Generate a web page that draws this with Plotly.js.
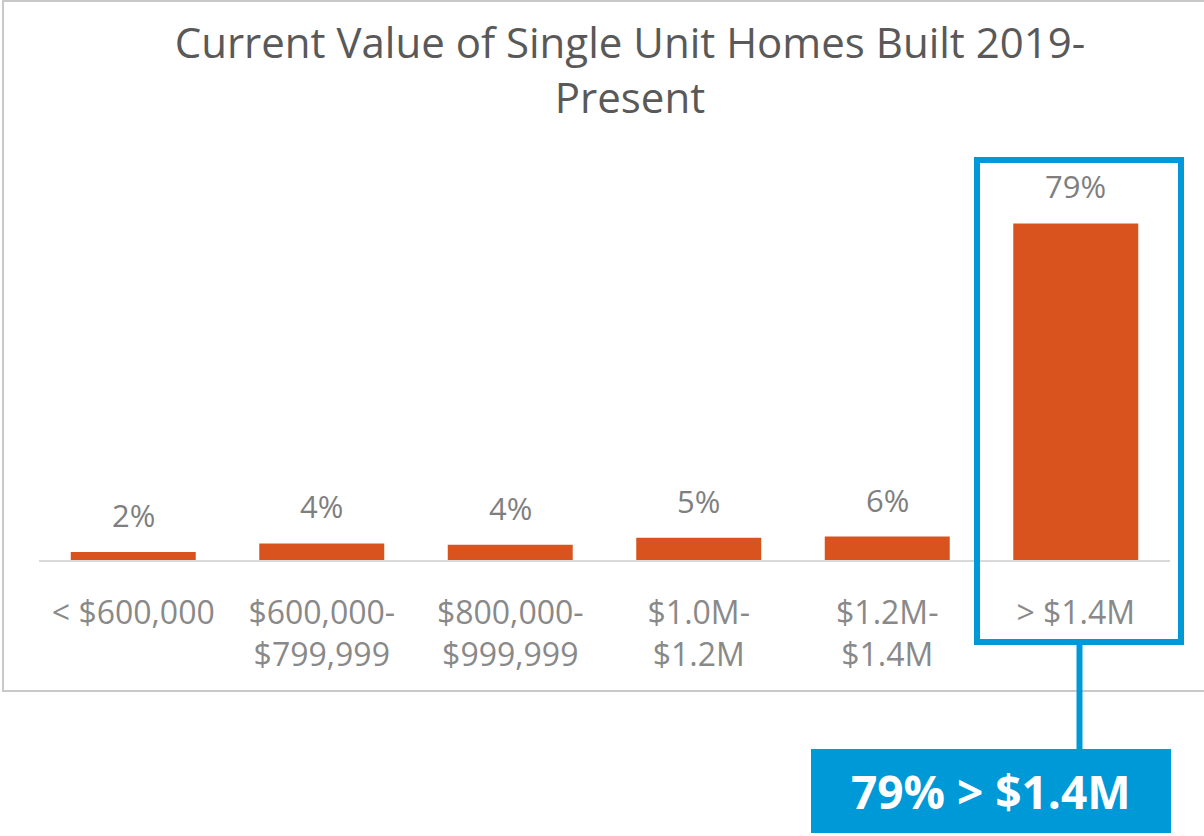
<!DOCTYPE html>
<html>
<head>
<meta charset="utf-8">
<script src="https://cdn.plot.ly/plotly-3.0.1.min.js"></script>
<style>
  html, body { margin: 0; padding: 0; background: #ffffff; }
  #chart { width: 1204px; height: 836px; }
</style>
</head>
<body>
<div id="chart"></div>
<script>
// ---- data ----
const categories = ["< $600,000", "$600,000-<br>$799,999", "$800,000-<br>$999,999", "$1.0M-<br>$1.2M", "$1.2M-<br>$1.4M", "> $1.4M"];
const shares = [1.9, 3.9, 3.6, 5.2, 5.5, 79];
const shareLabels = ["2%", "4%", "4%", "5%", "6%", "79%"];
const chartTitle = "Current Value of Single Unit Homes Built 2019-<br>Present";
const calloutText = "<b>79% > $1.4M</b>";

// ---- layout geometry (pixels) ----
const W = 1204, H = 836;
const M = {l: 39, r: 34, t: 140, b: 276};
const PW = W - M.l - M.r, PH = H - M.t - M.b;
const px = x => (x - M.l) / PW;
const py = y => (H - M.b - y) / PH;

const BAR = '#D9531E';
const BLUE = '#0099D8';
const FONT = '"Open Sans", "Noto Sans", sans-serif';

const trace = {
  type: 'bar',
  x: categories,
  y: shares,
  marker: {color: BAR},
  hoverinfo: 'skip'
};

const labelAnns = categories.map((c, i) => ({
  x: c, y: shares[i], xref: 'x', yref: 'y',
  text: shareLabels[i], showarrow: false,
  yanchor: 'bottom', yshift: 14,
  font: {family: FONT, size: 31, color: '#7f7f7f'}
}));

const layout = {
  width: W, height: H,
  margin: M,
  paper_bgcolor: '#ffffff',
  plot_bgcolor: 'rgba(0,0,0,0)',
  showlegend: false,
  bargap: 0.337,
  title: {
    text: chartTitle,
    font: {family: FONT, size: 42, color: '#595959'},
    x: 630 / W, xanchor: 'center', xref: 'container',
    y: 1 - 58 / H, yanchor: 'top', yref: 'container'
  },
  xaxis: {
    type: 'category',
    showline: true, linecolor: '#d9d9d9', linewidth: 2,
    showgrid: false, zeroline: false, ticks: '',
    ticklabelstandoff: 24,
    tickfont: {family: FONT, size: 32, color: '#898989'},
    fixedrange: true
  },
  yaxis: {
    range: [0, PH / 4.26],
    visible: false, showgrid: false, zeroline: false,
    fixedrange: true
  },
  shapes: [
    {type: 'rect', xref: 'paper', yref: 'paper', x0: px(3), x1: px(1230), y0: py(691), y1: py(1),
     line: {color: '#c9c9c9', width: 2}, fillcolor: 'rgba(0,0,0,0)', layer: 'below'},
    {type: 'rect', xref: 'paper', yref: 'paper', x0: px(977), x1: px(1181), y0: py(642), y1: py(160),
     line: {color: BLUE, width: 6}, fillcolor: 'rgba(0,0,0,0)'},
    {type: 'line', xref: 'paper', yref: 'paper', x0: px(1079.5), x1: px(1079.5), y0: py(645), y1: py(749),
     line: {color: BLUE, width: 6}},
    {type: 'rect', xref: 'paper', yref: 'paper', x0: px(811), x1: px(1171), y0: py(833), y1: py(749),
     line: {width: 0}, fillcolor: BLUE}
  ],
  annotations: labelAnns.concat([
    {xref: 'paper', yref: 'paper', x: px(991), y: py(791), text: calloutText, showarrow: false,
     xanchor: 'center', yanchor: 'middle',
     font: {family: FONT, size: 46, color: '#ffffff'}}
  ])
};

Plotly.newPlot('chart', [trace], layout, {displayModeBar: false, staticPlot: true});
</script>
</body>
</html>
